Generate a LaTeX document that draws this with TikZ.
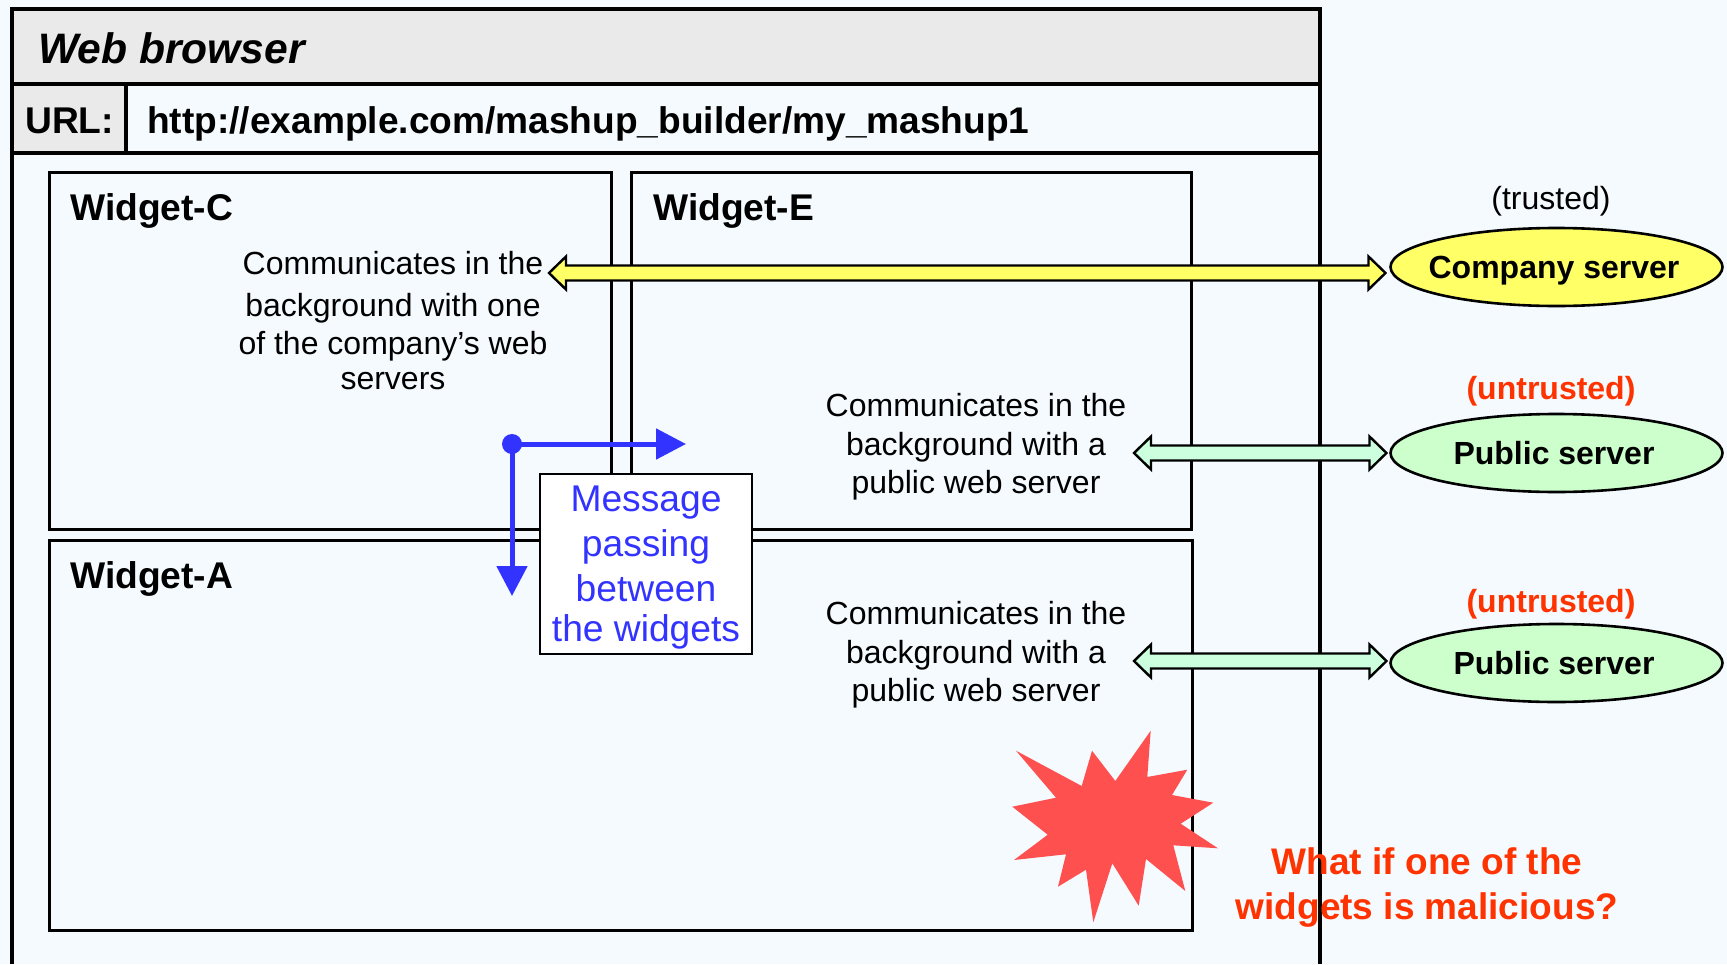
\documentclass[tikz,border=0pt]{standalone}
\usepackage{fontspec}
\setmainfont{Liberation Sans}
\usetikzlibrary{calc,shapes.geometric,arrows.meta}
\definecolor{bgc}{HTML}{F4FAFE}
\definecolor{barc}{HTML}{EAEAEA}
\definecolor{yel}{HTML}{FFFF66}
\definecolor{grn}{HTML}{CCFFCC}
\definecolor{arrgrn}{HTML}{CCFFDD}
\definecolor{msg}{HTML}{3333FF}
\definecolor{warn}{HTML}{FF3300}
\definecolor{burst}{HTML}{FF5050}
\newcommand{\fs}[1]{\fontsize{#1}{#1}\selectfont}
\newcommand{\dblarrow}[3]{%
  \draw[black,line width=2.4,fill=#3,line join=miter]
    (#1) -- ($(#1)+(17,-16.5)$) -- ($(#1)+(17,-7.5)$) -- ($(#2)+(-17,-7.5)$) -- ($(#2)+(-17,-16.5)$)
    -- (#2) -- ($(#2)+(-17,16.5)$) -- ($(#2)+(-17,7.5)$) -- ($(#1)+(17,7.5)$) -- ($(#1)+(17,16.5)$) -- cycle;}
\tikzset{
  x=1pt,y=-1pt,
  bar/.style={draw=black,line width=4.5,inner sep=0,outer sep=0,anchor=north west},
  widget/.style={draw=black,line width=3,inner sep=0,outer sep=0,anchor=north west},
  server/.style={ellipse,draw=black,line width=2.6,inner sep=0,outer sep=0,minimum width=332,minimum height=78,font=\bfseries\fs{32}},
  wtitle/.style={anchor=base west,inner sep=0,font=\bfseries\fs{37.2}},
  body/.style={align=center,inner sep=0,font=\fontsize{32}{38.5}\selectfont},
  status/.style={inner sep=0,font=\fs{32}},
}
\begin{document}
\begin{tikzpicture}
\useasboundingbox[fill=bgc] (0,0) rectangle (1727,964);
% browser frame
\coordinate (fbl) at (12,964);
\coordinate (fbr) at (1320,964);
\draw[black,line width=4] (fbl) -- (12,153) (fbr) -- (1320,153);
\node[bar,fill=barc,minimum width=1308,minimum height=75] (title) at (12,9) {};
\node[anchor=base west,inner sep=0,font=\bfseries\itshape\fs{42.6}] (titletext) at (38,63) {Web browser};
\node[bar,fill=barc,minimum width=114,minimum height=69] (urlcell) at (12,84) {};
\node[bar,minimum width=1194,minimum height=69] (urlbar) at (126,84) {};
\node[anchor=base west,inner sep=0,font=\bfseries\fs{37.2}] (urllabel) at (25,133) {URL:};
\node[anchor=base west,inner sep=0,font=\bfseries\fs{37.1}] (url) at (147,133) {http://example.com/mashup\_builder/my\_mashup1};
% widgets
\node[widget,minimum width=562,minimum height=357] (wc) at (49,172) {};
\node[widget,minimum width=560,minimum height=357] (we) at (631.2,172) {};
\node[widget,minimum width=1143,minimum height=390] (wa) at (49,540) {};
\node[wtitle] (wct) at (70,220) {Widget-C};
\node[wtitle] (wet) at (653,220) {Widget-E};
\node[wtitle] (wat) at (70,588) {Widget-A};
\node[body] (ctext) at (393,320.5) {Communicates in the\\[4pt]background with one\\[-0.5pt]of the company’s web\\[-3.5pt]servers};
\node[body] (etext) at (976,447) {Communicates in the\\background with a\\public web server};
\node[body] (atext) at (976,655) {Communicates in the\\background with a\\public web server};
% servers
\node[server,fill=yel] (company) at (1556.5,267) {\makebox[0pt][c]{\hspace{-5pt}\raisebox{-11.5pt}[0pt][0pt]{Company server}}};
\node[server,fill=grn] (pub1) at (1556.5,453) {\makebox[0pt][c]{\hspace{-5pt}Public server}};
\node[server,fill=grn] (pub2) at (1556.5,663) {\makebox[0pt][c]{\hspace{-5pt}Public server}};
\node[status] (trusted) at (1551,201.5) {(trusted)};
\node[status,text=warn,font=\bfseries\fs{32}] (untr1) at (1551,391.5) {(untrusted)};
\node[status,text=warn,font=\bfseries\fs{32}] (untr2) at (1551,604.5) {(untrusted)};
% connectors
\coordinate (yl) at (549,273);
\coordinate (yr) at ($(company.west)+(-5,6)$);
\coordinate (g1l) at (1134,453);
\coordinate (g1r) at ($(pub1.west)+(-4,0)$);
\coordinate (g2l) at (1134,661);
\coordinate (g2r) at ($(pub2.west)+(-4,-2)$);
\dblarrow{yl}{yr}{yel}
\dblarrow{g1l}{g1r}{arrgrn}
\dblarrow{g2l}{g2r}{arrgrn}
% message passing
\node[circle,fill=msg,inner sep=0,minimum size=20] (dot) at (512,444) {};
\coordinate (mr) at (686,444);
\coordinate (md) at (512,596);
\draw[msg,line width=5,-{Triangle[length=30,width=30]}] (dot.center) -- (mr);
\draw[msg,line width=5,-{Triangle[length=30,width=30]}] (dot.center) -- (md);
\node[draw=black,line width=1.2,fill=white,inner sep=0,outer sep=0,minimum width=212,minimum height=180] (msgbox) at (646,564) {};
\node[inner sep=0,align=center,text=msg,font=\fontsize{37.2}{45}\selectfont] (msgtext) at (646,568) {Message\\passing\\between\\[-5pt]the widgets};
% burst
\fill[burst] (1016,750.7) -- (1081.7,786) -- (1092,750.7) -- (1115.3,781) -- (1150.7,730.7) -- (1147.3,777) -- (1187.3,769.7) -- (1172,795) -- (1213.3,802.7) -- (1180.7,823.7) -- (1218,848.3) -- (1173.3,845.3) -- (1185.3,891) -- (1146,859) -- (1138.7,905.7) -- (1112.3,863.3) -- (1093.3,922.3) -- (1086,869.7) -- (1058,886.7) -- (1066,854.3) -- (1014,860) -- (1047.7,834.7) -- (1012.3,806.7) -- (1056,797.7) -- cycle;
\node[inner sep=0,align=center,text=warn,font=\bfseries\fontsize{37}{44.5}\selectfont] (warning) at (1427,887.5) {What if one of the\\widgets is malicious?};
\end{tikzpicture}
\end{document}
